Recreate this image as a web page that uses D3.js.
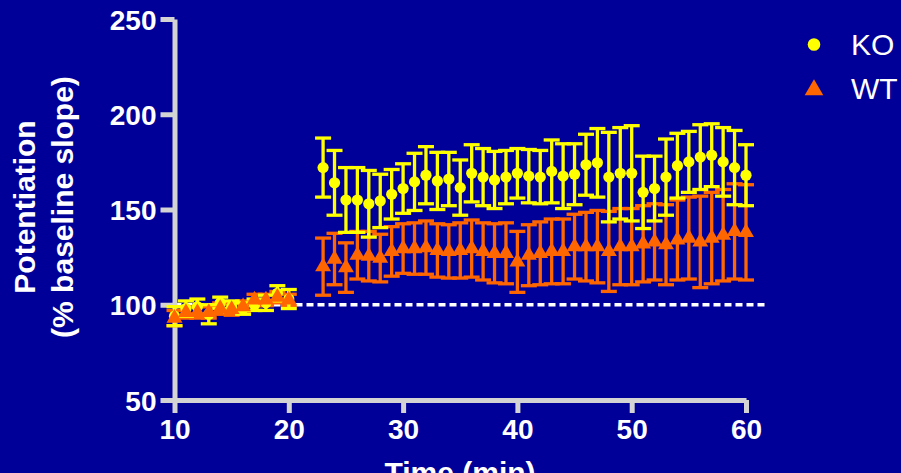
<!DOCTYPE html>
<html>
<head>
<meta charset="utf-8">
<script src="https://cdn.jsdelivr.net/npm/d3@7"></script>
<style>
  html, body { margin: 0; padding: 0; background: #000099; }
  svg { display: block; }
  text { font-family: "Liberation Sans", Arial, sans-serif; fill: #fff; }
</style>
</head>
<body>
<svg id="chart"></svg>
<script>
// time points (min)
const times = [10, 11, 12, 13, 14, 15, 16, 17, 18, 19, 20,
  23, 24, 25, 26, 27, 28, 29, 30, 31, 32, 33, 34, 35, 36, 37, 38, 39, 40, 41,
  42, 43, 44, 45, 46, 47, 48, 49, 50, 51, 52, 53, 54, 55, 56, 57, 58, 59, 60];

const koMean = [94, 98, 99, 95, 101, 99, 98, 100, 101, 106, 103,
  172, 164, 155, 155, 153, 154.5, 158, 161, 164.5, 168, 165, 166, 161.5, 169, 167,
  165.5, 167, 169, 167.5, 167, 170, 167.5, 168.5, 173.5, 174.5, 167, 169, 169, 159,
  161, 167, 173, 175, 177.5, 178.5, 175, 172, 168];
const koSem = [5, 4, 4, 5, 3, 3, 3, 3, 4, 4, 5,
  15.5, 17, 17, 17, 17.5, 14, 13, 13, 15, 15, 15, 14, 14.5, 15, 15,
  15, 14, 13, 14, 14, 16.5, 17, 16, 16, 18, 23.5, 24, 25, 19,
  17, 20, 17, 16, 17, 16.5, 18, 19.5, 16];

const wtMean = [93, 96, 96, 96, 98, 97.5, 99, 102.5, 102.5, 104, 102.5,
  120, 124, 119.5, 126, 125.5, 124.5, 128, 129.5, 129.5, 130, 128.5, 128, 128.5, 129.5, 128,
  127, 127, 122.5, 126, 127, 128, 128, 130.5, 130.5, 130.5, 128, 130.5, 130.5, 132,
  133, 131.5, 134, 135, 133, 135, 136.5, 138.5, 138];
const wtSem = [4, 3, 3, 3, 3, 3, 3, 3, 3, 3, 3,
  15, 13.5, 13, 12.5, 13, 12.5, 13, 13, 13.5, 14, 14, 14, 14.5, 15, 15,
  15.5, 16, 16, 16, 16.5, 17, 17, 17, 18, 19, 21, 20, 20, 20,
  20, 21, 21, 21.5, 24, 24, 24, 25, 25];

const xTicks = [10, 20, 30, 40, 50, 60];
const yTicks = [50, 100, 150, 200, 250];

const width = 901, height = 473;
const margin = { top: 19, right: 155, bottom: 73, left: 174.5 };

const svg = d3.select('#chart')
  .attr('width', width)
  .attr('height', height);

const x = d3.scaleLinear().domain([10, 60]).range([margin.left, width - margin.right]);
const y = d3.scaleLinear().domain([50, 250]).range([height - margin.bottom, margin.top]);

const wt = { name: 'WT', color: '#ff6600', mean: wtMean, sem: wtSem, shape: 'triangle' };
const ko = { name: 'KO', color: '#ffff00', mean: koMean, sem: koSem, shape: 'circle' };

// dotted baseline at 100%
svg.append('line')
  .attr('x1', x(10)).attr('x2', x(61.8))
  .attr('y1', y(100)).attr('y2', y(100))
  .attr('stroke', '#fff')
  .attr('stroke-width', 3.5)
  .attr('stroke-dasharray', '7,4');

// axes
const axisColor = '#d3d3d3';
const yAxis = svg.append('g')
  .attr('transform', `translate(${x(10)},0)`)
  .call(d3.axisLeft(y).tickValues(yTicks).tickSize(14).tickSizeOuter(0).tickPadding(4));
const xAxis = svg.append('g')
  .attr('transform', `translate(0,${y(50)})`)
  .call(d3.axisBottom(x).tickValues(xTicks).tickSize(13).tickSizeOuter(0).tickPadding(6));

[yAxis, xAxis].forEach(g => {
  g.selectAll('path, line').attr('stroke', axisColor).attr('stroke-width', 5);
  g.selectAll('text')
    .attr('fill', '#fff')
    .style('font-family', '"Liberation Sans", Arial, sans-serif')
    .style('font-weight', 'bold')
    .style('font-size', '28px');
});
xAxis.selectAll('text').attr('dy', '0.72em');
yAxis.selectAll('text').attr('dy', '0.36em');

// error bars
const capW = 8;
function drawErrors(s) {
  const g = svg.append('g').attr('class', 'err-' + s.name);
  times.forEach((t, i) => {
    const cx = x(t);
    const hi = y(s.mean[i] + s.sem[i]);
    const lo = y(s.mean[i] - s.sem[i]);
    g.append('line').attr('x1', cx).attr('x2', cx).attr('y1', hi).attr('y2', lo);
    g.append('line').attr('x1', cx - capW).attr('x2', cx + capW).attr('y1', hi).attr('y2', hi);
    g.append('line').attr('x1', cx - capW).attr('x2', cx + capW).attr('y1', lo).attr('y2', lo);
  });
  g.selectAll('line').attr('stroke', s.color).attr('stroke-width', 3.3);
}

const triangle = d3.symbol().type(d3.symbolTriangle).size(110);
function drawPoints(s) {
  const g = svg.append('g').attr('class', 'pts-' + s.name);
  if (s.shape === 'circle') {
    g.selectAll('circle')
      .data(times)
      .enter().append('circle')
      .attr('cx', d => x(d))
      .attr('cy', (d, i) => y(s.mean[i]))
      .attr('r', 5.6)
      .attr('fill', s.color);
  } else {
    g.selectAll('path')
      .data(times)
      .enter().append('path')
      .attr('d', triangle)
      .attr('transform', (d, i) => `translate(${x(d)},${y(s.mean[i])})`)
      .attr('fill', s.color);
  }
}

drawErrors(wt);
drawErrors(ko);
drawPoints(ko);
drawPoints(wt);

// axis titles
svg.append('text')
  .attr('transform', `translate(35,207) rotate(-90)`)
  .attr('text-anchor', 'middle')
  .style('font-weight', 'bold')
  .style('font-size', '30px')
  .text('Potentiation');
svg.append('text')
  .attr('transform', `translate(73,207) rotate(-90)`)
  .attr('text-anchor', 'middle')
  .style('font-weight', 'bold')
  .style('font-size', '30px')
  .text('(% baseline slope)');
svg.append('text')
  .attr('x', 460)
  .attr('y', 483)
  .attr('text-anchor', 'middle')
  .style('font-weight', 'bold')
  .style('font-size', '30px')
  .text('Time (min)');

// legend
const legend = svg.append('g').attr('transform', 'translate(814,0)');
legend.append('circle')
  .attr('cx', 0).attr('cy', 44.5).attr('r', 6.3)
  .attr('fill', '#ffff00');
legend.append('path')
  .attr('d', d3.symbol().type(d3.symbolTriangle).size(150))
  .attr('transform', 'translate(0,90)')
  .attr('fill', '#ff6600');
legend.append('text').attr('x', 37).attr('y', 55).style('font-size', '30px').text('KO');
legend.append('text').attr('x', 37).attr('y', 99).style('font-size', '30px').text('WT');
</script>
</body>
</html>
